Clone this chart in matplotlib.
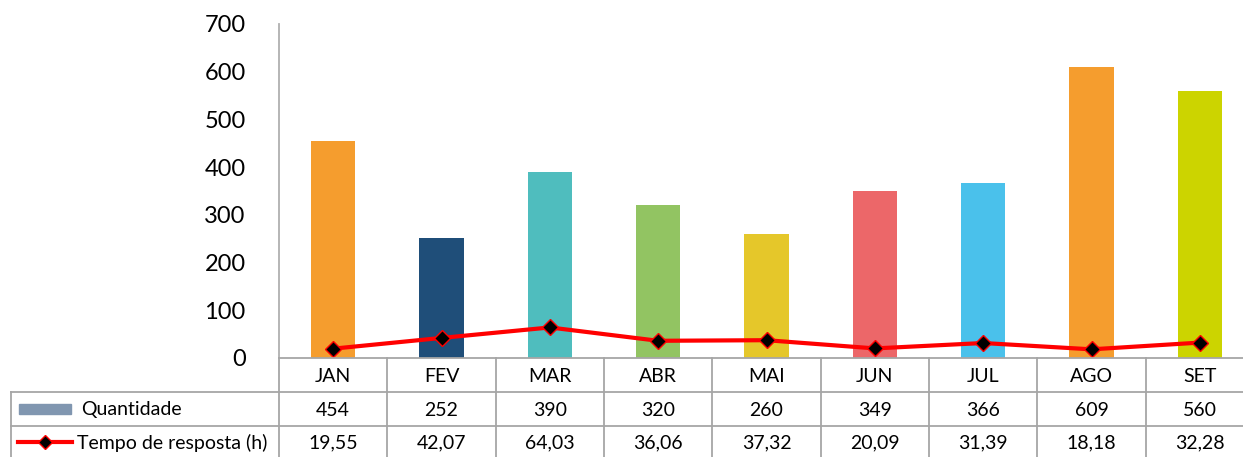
import matplotlib.pyplot as plt
from matplotlib.lines import Line2D
from matplotlib.patches import Rectangle
from matplotlib.transforms import blended_transform_factory

plt.rcParams['font.family'] = ['Lato', 'DejaVu Sans']

meses = ['JAN', 'FEV', 'MAR', 'ABR', 'MAI', 'JUN', 'JUL', 'AGO', 'SET']
quantidade = [454, 252, 390, 320, 260, 349, 366, 609, 560]
tempo = [19.55, 42.07, 64.03, 36.06, 37.32, 20.09, 31.39, 18.18, 32.28]
tempo_txt = ['19,55', '42,07', '64,03', '36,06', '37,32', '20,09', '31,39', '18,18', '32,28']
cores = ['#F59D2E', '#1F4E79', '#4FBDBE', '#92C462', '#E5C72A',
         '#EC6769', '#4AC1EB', '#F59D2E', '#CCD400']

W, H = 1243, 457
fig = plt.figure(figsize=(W / 100, H / 100), dpi=100)

# main axes, pixel layout: x 279..1254 (cut by the right edge), y 24..358
x0, x1, ytop, ybot = 279, 1254, 24, 358
ax = fig.add_axes([x0 / W, 1 - ybot / H, (x1 - x0) / W, (ybot - ytop) / H])
ax.bar(range(len(meses)), quantidade, width=0.41, color=cores)
ax.plot(range(len(meses)), tempo, color='#FF0000', lw=3,
        marker='D', ms=8, mfc='black', mec='#FF0000', mew=1)
ax.set_xlim(-0.5, len(meses) - 0.5)
ax.set_ylim(0, 700)
ax.set_yticks(range(0, 701, 100))
ax.set_xticks([])
ax.tick_params(axis='y', length=0, labelsize=17, pad=24)
for s in ['top', 'right', 'bottom']:
    ax.spines[s].set_visible(False)
ax.spines['left'].set_color('#b0b0b0')
ax.spines['left'].set_linewidth(1.3)

# data table below the chart, drawn on a full-figure overlay in pixels
ov = fig.add_axes([0, 0, 1, 1])
ov.set_xlim(0, W)
ov.set_ylim(H, 0)
ov.axis('off')
grid = '#a6a6a6'
lw = 1.3
r0, r1, r2, r3 = 358, 392, 426, 462
colw = (x1 - x0) / len(meses)

# horizontal lines
ov.add_line(Line2D([x0, x1], [r0, r0], color=grid, lw=lw))
for y in (r1, r2):
    ov.add_line(Line2D([11, x1], [y, y], color=grid, lw=lw))
# vertical lines
ov.add_line(Line2D([11, 11], [r1, r3], color=grid, lw=lw))
for i in range(len(meses) + 1):
    xv = x0 + i * colw
    ov.add_line(Line2D([xv, xv], [r0, r3], color=grid, lw=lw))

tx = blended_transform_factory(ax.transData, ov.transData)
for i, m in enumerate(meses):
    ov.text(i, (r0 + r1) / 2 + 1, m, transform=tx, ha='center', va='center', fontsize=14)
    ov.text(i, (r1 + r2) / 2 + 1, str(quantidade[i]), transform=tx,
            ha='center', va='center', fontsize=14)
    ov.text(i, (r2 + r3) / 2 - 1, tempo_txt[i], transform=tx,
            ha='center', va='center', fontsize=14)

# legend keys
ov.add_patch(Rectangle((19, 404), 52, 10, color='#8096B0'))
ov.text(81, (r1 + r2) / 2 + 1, 'Quantidade', ha='left', va='center', fontsize=14)
ov.add_line(Line2D([18, 72], [442, 442], color='#FF0000', lw=3))
ov.add_line(Line2D([45], [442], marker='D', ms=7, mfc='black', mec='#FF0000', lw=0))
ov.text(77, (r2 + r3) / 2 - 1, 'Tempo de resposta (h)', ha='left', va='center', fontsize=14)

fig.savefig('out.png', dpi=100)
